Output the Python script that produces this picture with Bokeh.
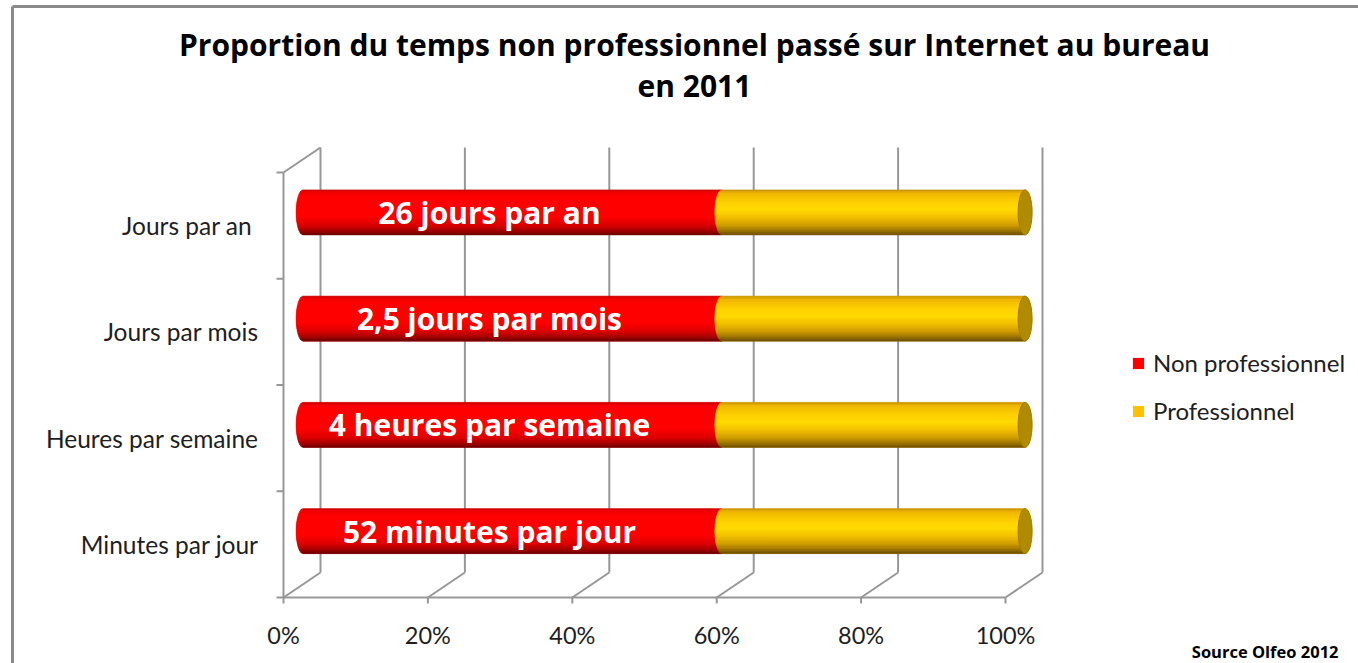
import numpy as np
from bokeh.plotting import figure
from bokeh.models import Range1d, Legend, LegendItem
from bokeh.core.properties import value
from bokeh.embed import file_html
from bokeh.resources import INLINE

# ---------------- data ----------------
categories = ["Minutes par jour", "Heures par semaine", "Jours par mois", "Jours par an "]
non_pro = [58, 58, 58, 58]
pro = [42, 42, 42, 42]
bar_labels = ["52 minutes par jour", "4 heures par semaine", "2,5 jours par mois", "26 jours par an"]
x_ticks = [0, 20, 40, 60, 80, 100]
x_tick_labels = ["0%", "20%", "40%", "60%", "80%", "100%"]
series_names = ["Non professionnel", "Professionnel"]
title_lines = ["Proportion du temps non professionnel passé sur Internet au bureau", "en 2011"]
source_text = "Source Olfeo 2012"

# ---------------- geometry (styles) ----------------
W, H = 1358, 663
PX_X = 7.22      # px per percent
PX_Y = 106.25    # px per category
X0_PX = 283      # front 0% from figure left
Y0_PX = 66       # front baseline from figure bottom
DX = 37 / PX_X   # depth offset (x)
DY = 25 / PX_Y   # depth offset (y)
BAR_DEPTH = 0.53
A = 7 / PX_X     # ellipse semi-width
B = 22.5 / PX_Y  # bar half height
GRAY = "#979797"
LABEL_FONT = "Lato"


def xpx(px):
    return (px - X0_PX) / PX_X


def ypx(px_from_top):
    return ((H - px_from_top) - Y0_PX) / PX_Y


p = figure(width=W, height=H, output_backend="svg", toolbar_location=None,
           x_range=Range1d(xpx(0), xpx(W)), y_range=Range1d(ypx(H), ypx(0)),
           x_axis_location=None, y_axis_location=None, min_border=0)
p.grid.visible = False
p.outline_line_color = None
p.background_fill_color = "white"
p.border_fill_color = "white"

# picture border
p.segment(x0=[xpx(12), xpx(12)], y0=[ypx(6), ypx(6)], x1=[xpx(12), xpx(W)], y1=[ypx(H), ypx(6)],
          line_color="#8a8a8a", line_width=3)

n = len(categories)
# back wall gridlines and floor diagonals
p.segment(x0=[t + DX for t in x_ticks], y0=[DY] * len(x_ticks),
          x1=[t + DX for t in x_ticks], y1=[n + DY] * len(x_ticks), line_color=GRAY, line_width=2)
p.segment(x0=x_ticks, y0=[0] * len(x_ticks), x1=[t + DX for t in x_ticks], y1=[DY] * len(x_ticks),
          line_color=GRAY, line_width=2)
p.segment(x0=[0], y0=[n], x1=[DX], y1=[n + DY], line_color=GRAY, line_width=2)
# front axes
p.segment(x0=[0, 0], y0=[0, 0], x1=[0, x_ticks[-1]], y1=[n, 0], line_color=GRAY, line_width=2)
# tick marks
p.segment(x0=[-7 / PX_X] * (n + 1), y0=list(range(n + 1)), x1=[0] * (n + 1), y1=list(range(n + 1)),
          line_color=GRAY, line_width=2)
p.segment(x0=x_ticks, y0=[0] * len(x_ticks), x1=x_ticks, y1=[-6 / PX_Y] * len(x_ticks),
          line_color=GRAY, line_width=2)


def interp(stops, t):
    for (p0, c0), (p1, c1) in zip(stops[:-1], stops[1:]):
        if p0 <= t <= p1:
            f = (t - p0) / (p1 - p0) if p1 > p0 else 0
            r0, g0, b0 = int(c0[1:3], 16), int(c0[3:5], 16), int(c0[5:7], 16)
            r1, g1, b1 = int(c1[1:3], 16), int(c1[3:5], 16), int(c1[5:7], 16)
            return "#%02x%02x%02x" % (round(r0 + (r1 - r0) * f), round(g0 + (g1 - g0) * f), round(b0 + (b1 - b0) * f))
    return stops[-1][1]


red_stops = [(0, "#c00000"), (0.06, "#f00000"), (0.15, "#ff0000"), (0.6, "#ff0000"),
             (0.8, "#d80000"), (0.92, "#a00000"), (1, "#6a0000")]
yel_stops = [(0, "#c08c00"), (0.08, "#efb800"), (0.3, "#ffd200"), (0.45, "#ffda00"), (0.62, "#f2c000"),
             (0.8, "#cc9a00"), (0.92, "#987000"), (1, "#6c4e00")]
base_colors = ["#ff0000", "#ffc000"]

N = 28
M = 5
off_x = BAR_DEPTH * DX
off_y = BAR_DEPTH * DY


def body(xl, xr, yc, t0, t1):
    yy0 = B - 2 * B * t0
    yy1 = B - 2 * B * t1
    ys = np.linspace(yy0, yy1, M)
    xs = [xl - A * np.sqrt(max(0.0, 1 - (y / B) ** 2)) for y in ys]
    return xs + [xr, xr], [yc + y for y in ys] + [yc + yy1, yc + yy0]


legend_renderers = []
for s, stops in enumerate([red_stops, yel_stops]):
    bxs, bys, sxs, sys_, scol = [], [], [], [], []
    for i in range(n):
        yc = i + 0.5 + off_y
        if s == 0:
            xl, xr = off_x, off_x + non_pro[i]
        else:
            xl, xr = off_x + non_pro[i], off_x + non_pro[i] + pro[i]
        bx, by = body(xl, xr, yc, 0, 1)
        bxs.append(bx); bys.append(by)
        for k in range(N):
            t0, t1 = k / N, (k + 1) / N
            sx, sy = body(xl, xr, yc, t0, t1)
            sxs.append(sx); sys_.append(sy)
            scol.append(interp(stops, (t0 + t1) / 2))
    r = p.patches(xs=bxs, ys=bys, fill_color=base_colors[s], line_color=None)
    legend_renderers.append(r)
    p.patches(xs=sxs, ys=sys_, fill_color=scol, line_color=scol, line_width=0.6)

# right end caps
p.ellipse(x=[off_x + non_pro[i] + pro[i] for i in range(n)], y=[i + 0.5 + off_y for i in range(n)],
          width=2 * A, height=2 * B, fill_color="#b08a00", line_color="#a07c00", line_width=1)

# labels on bars
p.text(x=[off_x + non_pro[i] / 2 - 23 / PX_X for i in range(n)], y=[i + 0.5 + off_y for i in range(n)],
       text=bar_labels, text_font=value("Open Sans"), text_font_style="bold", text_font_size="30px",
       text_color="white", text_align="center", text_baseline="middle")

# category labels
p.text(x=[xpx(258)] * n, y=[i + 0.5 for i in range(n)], text=categories, text_font=value(LABEL_FONT),
       text_font_size="24.5px", text_color="#1e1e1e", text_align="right", text_baseline="middle")

# x tick labels
p.text(x=x_ticks, y=[ypx(634)] * len(x_ticks), text=x_tick_labels, text_font=value(LABEL_FONT),
       text_font_size="23.5px", text_color="#1e1e1e", text_align="center", text_baseline="middle")

# title
p.text(x=[xpx(694)] * 2, y=[ypx(44), ypx(85)], text=title_lines, text_font=value("Open Sans"),
       text_font_style="bold", text_font_size="30px", text_color="black", text_align="center",
       text_baseline="middle")

# source
p.text(x=[xpx(1338)], y=[ypx(651)], text=[source_text], text_font=value("Open Sans"),
       text_font_style="bold", text_font_size="16.5px", text_color="black", text_align="right",
       text_baseline="middle")

legend = Legend(items=[LegendItem(label=series_names[j], renderers=[legend_renderers[j]]) for j in range(2)],
                location=(1131, 238), orientation="vertical", glyph_width=14, glyph_height=14,
                label_height=24, spacing=19, padding=0, margin=0, label_standoff=8,
                label_text_font=LABEL_FONT, label_text_font_size="24px", label_text_color="#1e1e1e",
                border_line_color=None, background_fill_alpha=0)
p.add_layout(legend)

open("out.html", "w").write(file_html(p, INLINE))
